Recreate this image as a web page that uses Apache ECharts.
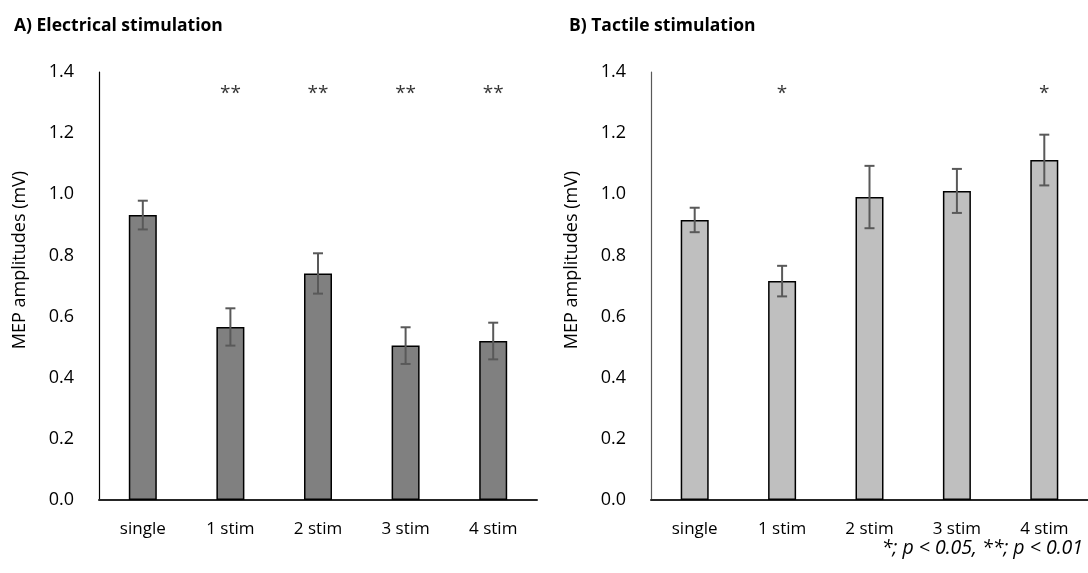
<!DOCTYPE html>
<html>
<head>
<meta charset="utf-8">
<script src="https://cdn.jsdelivr.net/npm/echarts@6/dist/echarts.min.js"></script>
<style>
html,body{margin:0;padding:0;background:#fff;}
#chart{width:1088px;height:573px;}
</style>
</head>
<body>
<div id="chart"></div>
<script>
var categories = ['single', '1 stim', '2 stim', '3 stim', '4 stim'];
var yTicks = [0, 0.2, 0.4, 0.6, 0.8, 1.0, 1.2, 1.4];

// A) electrical stimulation
var elecMean = [0.932, 0.566, 0.741, 0.505, 0.520];
var elecErr = [0.047, 0.061, 0.066, 0.060, 0.060];
var elecStars = ['', '**', '**', '**', '**'];

// B) tactile stimulation
var tactMean = [0.916, 0.716, 0.991, 1.011, 1.112];
var tactErr = [0.040, 0.050, 0.102, 0.072, 0.083];
var tactStars = ['', '*', '', '', '*'];

var starLevel = 1.33;
var font = '"Open Sans", sans-serif';

var chart = echarts.init(document.getElementById('chart'));

function errData(mean, err){
	var out = [];
	for (var i = 0; i < mean.length; i++){
		out.push([i, mean[i] - err[i], mean[i] + err[i]]);
	}
	return out;
}
function starData(stars){
	var out = [];
	for (var i = 0; i < stars.length; i++){
		if (stars[i] != '') out.push({value: [i, starLevel], mark: stars[i]});
	}
	return out;
}
function renderErr(params, api){
	var x = api.value(0);
	var lo = api.coord([x, api.value(1)]);
	var hi = api.coord([x, api.value(2)]);
	var cap = 5;
	var st = {stroke: '#595959', lineWidth: 2};
	return {
		type: 'group',
		children: [
			{type: 'line', shape: {x1: lo[0], y1: lo[1], x2: hi[0], y2: hi[1]}, style: st},
			{type: 'line', shape: {x1: lo[0] - cap, y1: lo[1], x2: lo[0] + cap, y2: lo[1]}, style: st},
			{type: 'line', shape: {x1: hi[0] - cap, y1: hi[1], x2: hi[0] + cap, y2: hi[1]}, style: st}
		]
	};
}
function xAx(idx){
	return {
		type: 'category', gridIndex: idx, data: categories,
		axisLine: {lineStyle: {color: '#262626', width: 2}},
		axisTick: {show: false},
		axisLabel: {color: '#000', fontSize: 17, fontFamily: font, margin: 21}
	};
}
function yAx(idx, lineColor){
	return {
		type: 'value', gridIndex: idx, min: 0, max: 1.4, interval: 0.2,
		name: 'MEP amplitudes (mV)', nameLocation: 'middle', nameGap: 70, nameRotate: 90,
		nameTextStyle: {color: '#000', fontSize: 18, fontFamily: font, padding: [0, 0, 0, 52]},
		axisLine: {show: true, lineStyle: {color: lineColor, width: 1.2}},
		axisTick: {show: false},
		splitLine: {show: false},
		axisLabel: {color: '#000', fontSize: 18, fontFamily: font, margin: 25,
			formatter: function(v){ return v.toFixed(1); }}
	};
}
function barSeries(idx, data, color){
	return {
		type: 'bar', xAxisIndex: idx, yAxisIndex: idx, data: data, barWidth: 28,
		itemStyle: {color: color, borderColor: '#000', borderWidth: 1.5},
		silent: true
	};
}
function errSeries(idx, mean, err){
	return {
		type: 'custom', xAxisIndex: idx, yAxisIndex: idx,
		data: errData(mean, err), renderItem: renderErr, z: 5, silent: true
	};
}
function starSeries(idx, stars){
	return {
		type: 'scatter', xAxisIndex: idx, yAxisIndex: idx, symbolSize: 0,
		data: starData(stars), silent: true,
		label: {show: true, position: 'inside', color: '#000', fontSize: 19, fontFamily: font,
			formatter: function(p){ return p.data.mark; }}
	};
}

var option = {
	animation: false,
	backgroundColor: '#fff',
	title: [
		{text: 'A) Electrical stimulation', left: 9, top: 12,
			textStyle: {fontSize: 17.5, fontWeight: 'bold', color: '#000', fontFamily: font}},
		{text: 'B) Tactile stimulation', left: 564, top: 12,
			textStyle: {fontSize: 17.5, fontWeight: 'bold', color: '#000', fontFamily: font}}
	],
	graphic: [
		{type: 'text', right: 5, top: 538,
			style: {text: '*; p < 0.05, **; p < 0.01', fill: '#000', fontSize: 19.5,
				fontStyle: 'italic', fontFamily: font}}
	],
	grid: [
		{left: 99, width: 438, top: 72, bottom: 73},
		{left: 651, width: 437, top: 72, bottom: 73}
	],
	xAxis: [xAx(0), xAx(1)],
	yAxis: [yAx(0, '#000'), yAx(1, '#595959')],
	series: [
		barSeries(0, elecMean, '#808080'),
		errSeries(0, elecMean, elecErr),
		starSeries(0, elecStars),
		barSeries(1, tactMean, '#bfbfbf'),
		errSeries(1, tactMean, tactErr),
		starSeries(1, tactStars)
	]
};
chart.setOption(option);
</script>
</body>
</html>
